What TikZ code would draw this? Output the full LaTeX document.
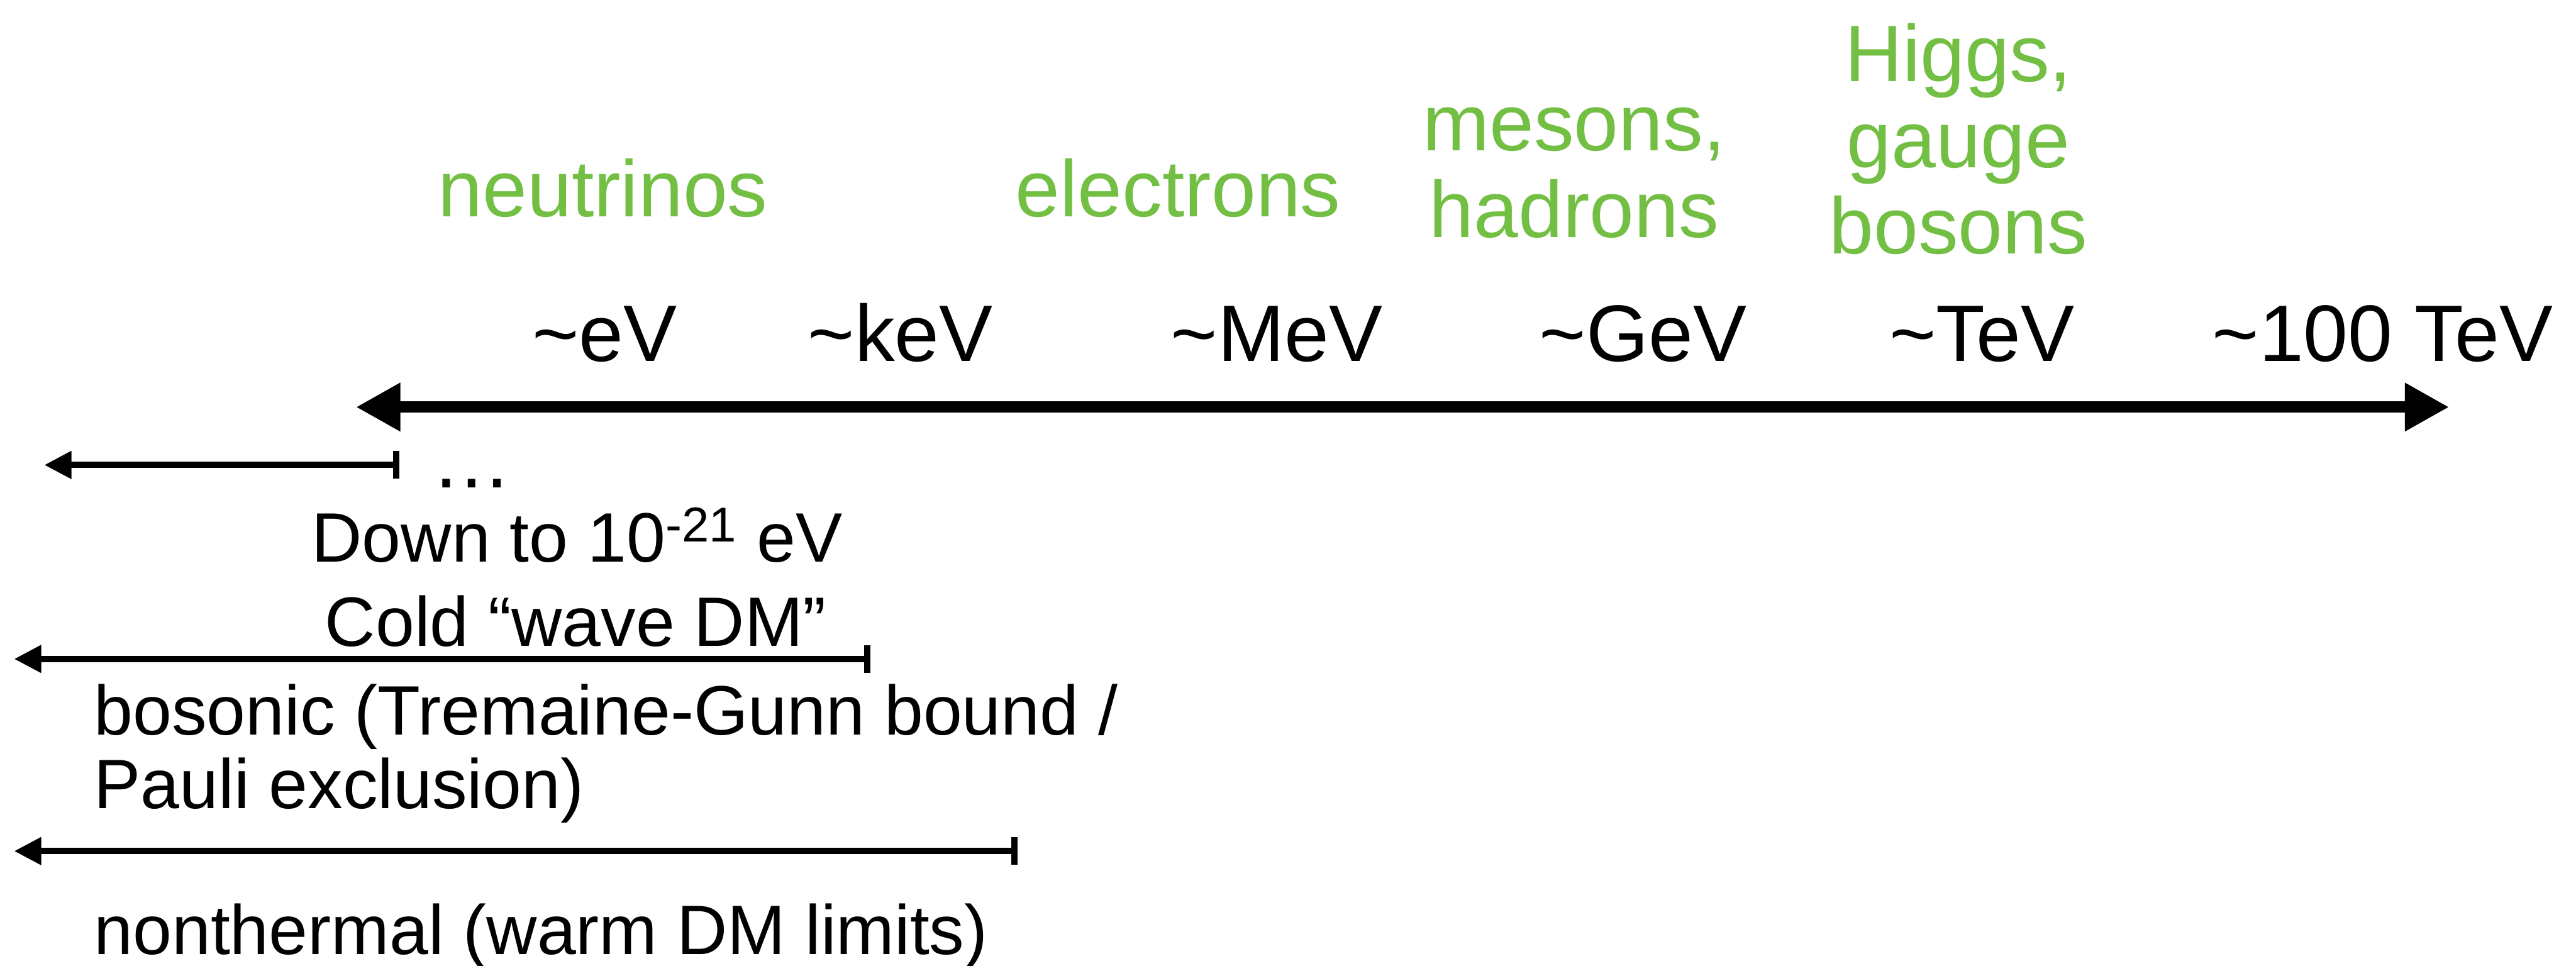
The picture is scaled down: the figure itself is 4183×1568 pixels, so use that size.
\documentclass[tikz,border=0pt]{standalone}
\usepackage{fontspec}
\setmainfont{Liberation Sans}
\usetikzlibrary{arrows.meta}
\definecolor{particlegreen}{RGB}{114,191,68}
\begin{document}
\begin{tikzpicture}[x=0.01cm,y=-0.01cm,
  scalelabel/.style={font=\fontsize{37}{40}\selectfont, inner sep=0pt, anchor=base},
  particle/.style={scalelabel, text=particlegreen},
  note/.style={font=\fontsize{32.3}{36}\selectfont, inner sep=0pt, anchor=base},
  notel/.style={note, anchor=base west},
  energyaxis/.style={line width=0.18cm, {Triangle[length=0.72cm,width=0.74cm]}-{Triangle[length=0.72cm,width=0.74cm]}},
  rangebar/.style={line width=0.10cm, {Triangle[length=0.44cm,width=0.43cm]}-{Bar[width=0.45cm]}}
]
\useasboundingbox (0,0) rectangle (4183,1568);

% energy axis
\coordinate (axL) at (578,661);
\coordinate (axR) at (3977,661);
\draw[energyaxis] (axL) -- (axR);

% energy scale labels
\node[scalelabel] (eV)   at (982,587)  {\textasciitilde eV};
\node[scalelabel] (keV)  at (1462,587) {\textasciitilde keV};
\node[scalelabel] (MeV)  at (2073,587) {\textasciitilde MeV};
\node[scalelabel] (GeV)  at (2668,587) {\textasciitilde GeV};
\node[scalelabel] (TeV)  at (3218,587) {\textasciitilde TeV};
\node[scalelabel] (hTeV) at (3869,587) {\textasciitilde 100 TeV};

% particle labels
\node[particle] (nu)   at (979,352)  {neutrinos};
\node[particle] (el)   at (1913,352) {electrons};
\node[particle] (mes)  at (2556,245) {mesons,};
\node[particle] (had)  at (2556,385) {hadrons};
\node[particle] (hig)  at (3180,132) {Higgs,};
\node[particle] (gau)  at (3180,272) {gauge};
\node[particle] (bos)  at (3180,412) {bosons};

% wave dark matter range
\coordinate (r1L) at (72,755);
\coordinate (r1R) at (648,755);
\draw[rangebar] (r1L) -- (r1R);
\node[scalelabel] (dots) at (766,792) {…};
\node[note] (down) at (937,912)  {Down to 10\textsuperscript{-21} eV};
\node[note] (cold) at (935,1049) {Cold “wave DM”};

% bosonic range
\coordinate (r2L) at (23,1070);
\coordinate (r2R) at (1413,1070);
\draw[rangebar] (r2L) -- (r2R);
\node[notel] (bos1) at (152,1193) {bosonic (Tremaine-Gunn bound /};
\node[notel] (bos2) at (152,1313) {Pauli exclusion)};

% nonthermal range
\coordinate (r3L) at (23,1382);
\coordinate (r3R) at (1652,1382);
\draw[rangebar] (r3L) -- (r3R);
\node[notel] (nth) at (152,1550) {nonthermal (warm DM limits)};
\end{tikzpicture}
\end{document}
